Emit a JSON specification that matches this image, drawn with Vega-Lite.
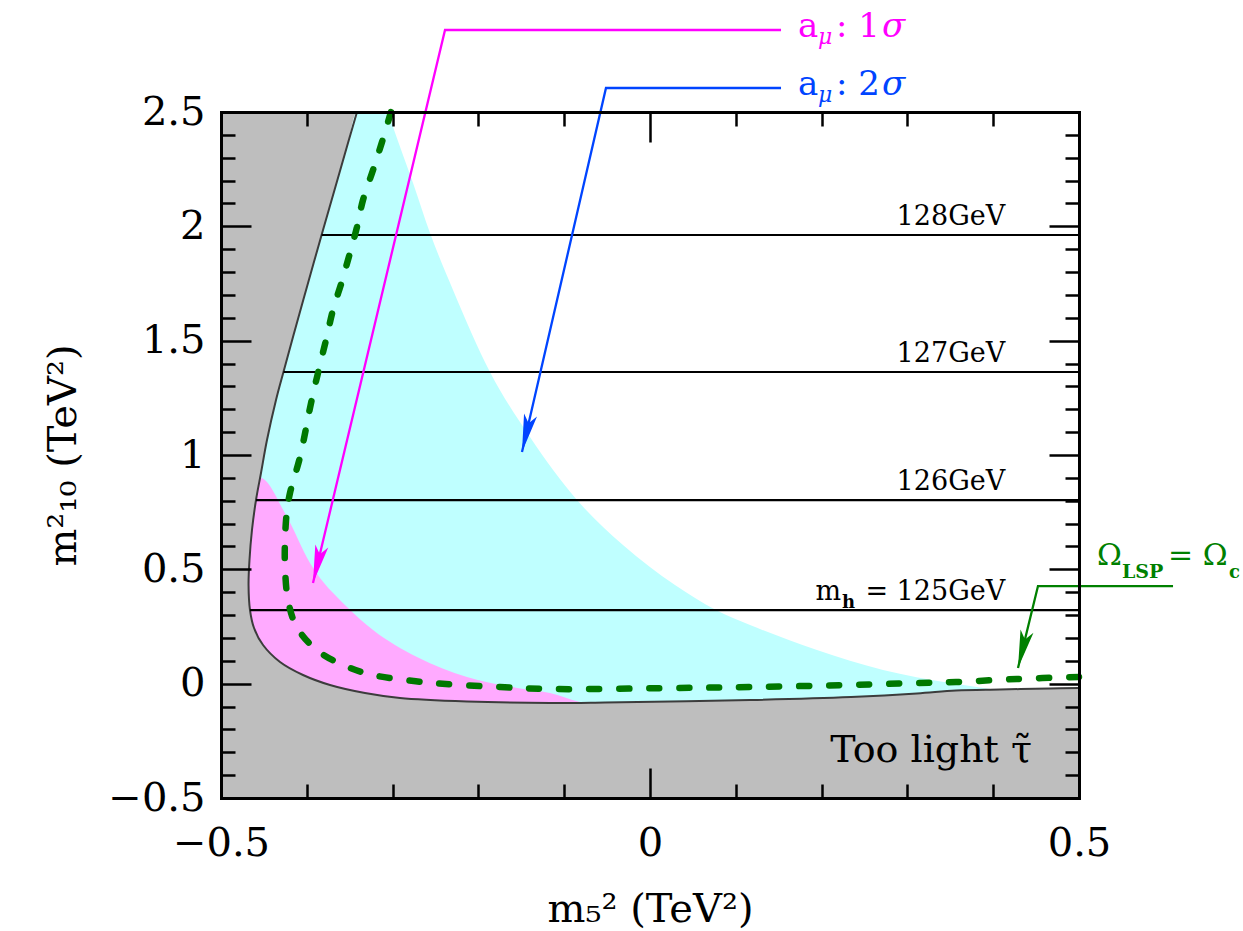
{
  "$schema": "https://vega.github.io/schema/vega-lite/v6.json",
  "width": 858,
  "height": 686,
  "autosize": {"type": "none"},
  "padding": {"left": 221, "top": 112, "right": 164, "bottom": 133},
  "background": "white",
  "config": {"view": {"fill": "#bebebe", "stroke": null}, "font": "DejaVu Serif"},
  "datasets": {
    "white": [
      {"x": -0.4679, "y": 0.4315}, {"x": -0.4668, "y": 0.5409}, {"x": -0.4639, "y": 0.672},
      {"x": -0.4592, "y": 0.8032}, {"x": -0.4534, "y": 0.9213}, {"x": -0.4464, "y": 1.0656},
      {"x": -0.4359, "y": 1.2405}, {"x": -0.4272, "y": 1.363}, {"x": -0.4161, "y": 1.5161},
      {"x": -0.3992, "y": 1.7435}, {"x": -0.3811, "y": 1.984}, {"x": -0.3677, "y": 2.1589},
      {"x": -0.352, "y": 2.3644}, {"x": -0.3415, "y": 2.5}, {"x": 0.5, "y": 2.5}
    ],
    "cyan": [
      {"x": -0.4679, "y": 0.4315}, {"x": -0.4668, "y": 0.5409}, {"x": -0.4639, "y": 0.672},
      {"x": -0.4592, "y": 0.8032}, {"x": -0.4534, "y": 0.9213}, {"x": -0.4464, "y": 1.0656},
      {"x": -0.4359, "y": 1.2405}, {"x": -0.4272, "y": 1.363}, {"x": -0.4161, "y": 1.5161},
      {"x": -0.3992, "y": 1.7435}, {"x": -0.3811, "y": 1.984}, {"x": -0.3677, "y": 2.1589},
      {"x": -0.352, "y": 2.3644}, {"x": -0.3415, "y": 2.5}, {"x": -0.3054, "y": 2.5},
      {"x": -0.3007, "y": 2.4475}, {"x": -0.2762, "y": 2.1895}, {"x": -0.2564, "y": 1.9709},
      {"x": -0.2296, "y": 1.7216}, {"x": -0.1865, "y": 1.363}, {"x": -0.1399, "y": 1.0787},
      {"x": -0.0851, "y": 0.8032}, {"x": -0.0315, "y": 0.6064}, {"x": 0.0291, "y": 0.4315},
      {"x": 0.0769, "y": 0.322}, {"x": 0.1166, "y": 0.2566}, {"x": 0.1946, "y": 0.1473},
      {"x": 0.2716, "y": 0.0598}, {"x": 0.3497, "y": 0.003}, {"x": 0.3963, "y": -0.0233},
      {"x": 0.4196, "y": -0.0364}
    ],
    "pink": [
      {"x": -0.4679, "y": 0.4315}, {"x": -0.4668, "y": 0.5409}, {"x": -0.4639, "y": 0.672},
      {"x": -0.4592, "y": 0.8032}, {"x": -0.4546, "y": 0.9}, {"x": -0.4231, "y": 0.7289},
      {"x": -0.3963, "y": 0.5277}, {"x": -0.3531, "y": 0.3353}, {"x": -0.3228, "y": 0.2347},
      {"x": -0.2716, "y": 0.1167}, {"x": -0.2133, "y": 0.0292}, {"x": -0.155, "y": -0.0189},
      {"x": -0.1166, "y": -0.0408}, {"x": -0.0816, "y": -0.0801}, {"x": -0.0583, "y": -0.0976}
    ],
    "grayBottom": [
      {"x": -0.5, "y": 0.4315}, {"x": -0.4679, "y": 0.4315}, {"x": -0.4662, "y": 0.322},
      {"x": -0.4615, "y": 0.2435}, {"x": -0.451, "y": 0.1691}, {"x": -0.4312, "y": 0.0948},
      {"x": -0.4044, "y": 0.0379}, {"x": -0.373, "y": -0.0058}, {"x": -0.3322, "y": -0.0408},
      {"x": -0.2914, "y": -0.0626}, {"x": -0.2133, "y": -0.078}, {"x": -0.1166, "y": -0.0845},
      {"x": -0.0524, "y": -0.0823}, {"x": 0.1166, "y": -0.0714}, {"x": 0.2343, "y": -0.0583},
      {"x": 0.3112, "y": -0.043}, {"x": 0.3566, "y": -0.0299}, {"x": 0.4079, "y": -0.0255},
      {"x": 0.4662, "y": -0.0211}, {"x": 0.5, "y": -0.0189}
    ],
    "boundary": [
      {"i": 0, "x": -0.3415, "y": 2.5}, {"i": 1, "x": -0.352, "y": 2.3644}, {"i": 2, "x": -0.3677, "y": 2.1589},
      {"i": 3, "x": -0.3811, "y": 1.984}, {"i": 4, "x": -0.3992, "y": 1.7435}, {"i": 5, "x": -0.4161, "y": 1.5161},
      {"i": 6, "x": -0.4272, "y": 1.363}, {"i": 7, "x": -0.4359, "y": 1.2405}, {"i": 8, "x": -0.4464, "y": 1.0656},
      {"i": 9, "x": -0.4534, "y": 0.9213}, {"i": 10, "x": -0.4592, "y": 0.8032}, {"i": 11, "x": -0.4639, "y": 0.672},
      {"i": 12, "x": -0.4668, "y": 0.5409}, {"i": 13, "x": -0.4679, "y": 0.4315}, {"i": 14, "x": -0.4662, "y": 0.322},
      {"i": 15, "x": -0.4615, "y": 0.2435}, {"i": 16, "x": -0.451, "y": 0.1691}, {"i": 17, "x": -0.4312, "y": 0.0948},
      {"i": 18, "x": -0.4044, "y": 0.0379}, {"i": 19, "x": -0.373, "y": -0.0058}, {"i": 20, "x": -0.3322, "y": -0.0408},
      {"i": 21, "x": -0.2914, "y": -0.0626}, {"i": 22, "x": -0.2133, "y": -0.078}, {"i": 23, "x": -0.1166, "y": -0.0845},
      {"i": 24, "x": -0.0524, "y": -0.0823}, {"i": 25, "x": 0.1166, "y": -0.0714}, {"i": 26, "x": 0.2343, "y": -0.0583},
      {"i": 27, "x": 0.3112, "y": -0.043}, {"i": 28, "x": 0.3566, "y": -0.0299}, {"i": 29, "x": 0.4079, "y": -0.0255},
      {"i": 30, "x": 0.4662, "y": -0.0211}, {"i": 31, "x": 0.5, "y": -0.0189}
    ],
    "relic": [
      {"i": 0, "x": -0.3019, "y": 2.5}, {"i": 1, "x": -0.3127, "y": 2.3644}, {"i": 2, "x": -0.3228, "y": 2.2464},
      {"i": 3, "x": -0.3345, "y": 2.1152}, {"i": 4, "x": -0.3415, "y": 1.9971}, {"i": 5, "x": -0.3497, "y": 1.8834},
      {"i": 6, "x": -0.3593, "y": 1.7566}, {"i": 7, "x": -0.3695, "y": 1.6341}, {"i": 8, "x": -0.3768, "y": 1.5161},
      {"i": 9, "x": -0.3943, "y": 1.2405}, {"i": 10, "x": -0.4079, "y": 0.9913}, {"i": 11, "x": -0.4196, "y": 0.8338},
      {"i": 12, "x": -0.4234, "y": 0.7464}, {"i": 13, "x": -0.4254, "y": 0.6283}, {"i": 14, "x": -0.4254, "y": 0.5102},
      {"i": 15, "x": -0.4219, "y": 0.3659}, {"i": 16, "x": -0.4118, "y": 0.2479}, {"i": 17, "x": -0.3885, "y": 0.1473},
      {"i": 18, "x": -0.3578, "y": 0.0817}, {"i": 19, "x": -0.3228, "y": 0.0379}, {"i": 20, "x": -0.2529, "y": 0.003},
      {"i": 21, "x": -0.1748, "y": -0.0145}, {"i": 22, "x": -0.1166, "y": -0.0233}, {"i": 23, "x": 0.0291, "y": -0.0189},
      {"i": 24, "x": 0.1166, "y": -0.0145}, {"i": 25, "x": 0.2343, "y": -0.0058}, {"i": 26, "x": 0.3112, "y": 0.003},
      {"i": 27, "x": 0.3566, "y": 0.0073}, {"i": 28, "x": 0.4277, "y": 0.0205}, {"i": 29, "x": 0.5, "y": 0.0292}
    ],
    "higgs": [
      {"x": -0.3828, "y": 1.962, "t": "128GeV"},
      {"x": -0.4272, "y": 1.363, "t": "127GeV"},
      {"x": -0.4592, "y": 0.803, "t": "126GeV"},
      {"x": -0.4662, "y": 0.322, "t": "= 125GeV"}
    ],
    "annot": [
      {"s": "1σ", "i": 0, "x": 0.1527, "y": 2.8586}, {"s": "1σ", "i": 1, "x": -0.2389, "y": 2.8586}, {"s": "1σ", "i": 2, "x": -0.3928, "y": 0.4403},
      {"s": "2σ", "i": 0, "x": 0.1527, "y": 2.605}, {"s": "2σ", "i": 1, "x": -0.0513, "y": 2.605}, {"s": "2σ", "i": 2, "x": -0.1492, "y": 1.013},
      {"s": "Ω", "i": 0, "x": 0.6096, "y": 0.427}, {"s": "Ω", "i": 1, "x": 0.4522, "y": 0.427}, {"s": "Ω", "i": 2, "x": 0.4289, "y": 0.0685}
    ],
    "amu": [
      {"x": 0.1725, "y": 2.8586, "s": "1σ", "tail": ": 1"},
      {"x": 0.1725, "y": 2.605, "s": "2σ", "tail": ": 2"}
    ],
    "omega": [{"x": 0.5268, "y": 0.427, "s": "Ω"}],
    "stau": [{"x": 0.4452, "y": -0.3412, "t": "Too light τ̃"}]
  },
  "encoding": {
    "x": {"field": "x", "type": "quantitative", "scale": {"domain": [-0.5, 0.5], "nice": false, "zero": false}, "axis": null},
    "y": {"field": "y", "type": "quantitative", "scale": {"domain": [-0.5, 2.5], "nice": false, "zero": false}, "axis": null}
  },
  "layer": [
    {
      "data": {"name": "white"},
      "mark": {"type": "area", "color": "white", "interpolate": "monotone"},
      "encoding": {
        "x": {
          "field": "x", "type": "quantitative", "scale": {"domain": [-0.5, 0.5], "nice": false, "zero": false},
          "axis": {
            "orient": "bottom",
            "values": [-0.5, -0.4, -0.3, -0.2, -0.1, 0, 0.1, 0.2, 0.3, 0.4, 0.5],
            "format": "~g",
            "labelExpr": "abs(datum.value*2-round(datum.value*2))<0.001 ? datum.label : ''",
            "tickSize": {"condition": {"test": "abs(datum.value*2-round(datum.value*2))<0.001", "value": -30}, "value": -14},
            "tickWidth": 2.5, "tickColor": "black",
            "domainColor": "black", "domainWidth": 3, "domainCap": "square",
            "labelFont": "DejaVu Serif", "labelFontSize": 40, "labelColor": "black", "labelPadding": 55,
            "labelOverlap": false, "labelFlush": false,
            "title": "m₅² (TeV²)", "titleFont": "DejaVu Serif", "titleFontSize": 40, "titleFontWeight": "normal",
            "titleColor": "black", "titlePadding": 10,
            "grid": false, "zindex": 1
          }
        },
        "y": {
          "field": "y", "type": "quantitative", "scale": {"domain": [-0.5, 2.5], "nice": false, "zero": false},
          "axis": {
            "orient": "left",
            "values": [-0.5, -0.4, -0.3, -0.2, -0.1, 0, 0.1, 0.2, 0.3, 0.4, 0.5, 0.6, 0.7, 0.8, 0.9, 1, 1.1, 1.2, 1.3, 1.4, 1.5, 1.6, 1.7, 1.8, 1.9, 2, 2.1, 2.2, 2.3, 2.4, 2.5],
            "format": "~g",
            "labelExpr": "abs(datum.value*2-round(datum.value*2))<0.001 ? datum.label : ''",
            "tickSize": {"condition": {"test": "abs(datum.value*2-round(datum.value*2))<0.001", "value": -30}, "value": -14},
            "tickWidth": 2.5, "tickColor": "black",
            "domainColor": "black", "domainWidth": 3, "domainCap": "square",
            "labelFont": "DejaVu Serif", "labelFontSize": 40, "labelColor": "black", "labelPadding": 46,
            "labelOverlap": false, "labelFlush": false,
            "title": "m²₁₀ (TeV²)", "titleFont": "DejaVu Serif", "titleFontSize": 40, "titleFontWeight": "normal",
            "titleColor": "black", "titlePadding": 24,
            "grid": false, "zindex": 1
          }
        },
        "y2": {"datum": -0.5}
      }
    },
    {
      "data": {"name": "cyan"},
      "mark": {"type": "area", "color": "#bfffff", "interpolate": "monotone"},
      "encoding": {
        "x": {
          "field": "x", "type": "quantitative", "scale": {"domain": [-0.5, 0.5], "nice": false, "zero": false},
          "axis": {
            "orient": "top",
            "values": [-0.5, -0.4, -0.3, -0.2, -0.1, 0, 0.1, 0.2, 0.3, 0.4, 0.5],
            "labels": false, "title": null,
            "tickSize": {"condition": {"test": "abs(datum.value*2-round(datum.value*2))<0.001", "value": -30}, "value": -14},
            "tickWidth": 2.5, "tickColor": "black",
            "domainColor": "black", "domainWidth": 3, "domainCap": "square",
            "grid": false, "zindex": 1
          }
        },
        "y": {
          "field": "y", "type": "quantitative", "scale": {"domain": [-0.5, 2.5], "nice": false, "zero": false},
          "axis": {
            "orient": "right",
            "values": [-0.5, -0.4, -0.3, -0.2, -0.1, 0, 0.1, 0.2, 0.3, 0.4, 0.5, 0.6, 0.7, 0.8, 0.9, 1, 1.1, 1.2, 1.3, 1.4, 1.5, 1.6, 1.7, 1.8, 1.9, 2, 2.1, 2.2, 2.3, 2.4, 2.5],
            "labels": false, "title": null,
            "tickSize": {"condition": {"test": "abs(datum.value*2-round(datum.value*2))<0.001", "value": -30}, "value": -14},
            "tickWidth": 2.5, "tickColor": "black",
            "domainColor": "black", "domainWidth": 3, "domainCap": "square",
            "grid": false, "zindex": 1
          }
        },
        "y2": {"datum": -0.5}
      }
    },
    {
      "data": {"name": "pink"},
      "mark": {"type": "area", "color": "#ffaaff", "interpolate": "monotone"},
      "encoding": {"y2": {"datum": -0.5}}
    },
    {
      "data": {"name": "grayBottom"},
      "mark": {"type": "area", "color": "#bebebe", "interpolate": "monotone"},
      "encoding": {"y2": {"datum": -0.5}}
    },
    {
      "data": {"name": "boundary"},
      "mark": {"type": "line", "color": "#3c3c3c", "strokeWidth": 2, "interpolate": "catmull-rom"},
      "encoding": {"order": {"field": "i", "type": "quantitative"}}
    },
    {
      "data": {"name": "higgs"},
      "mark": {"type": "rule", "color": "black", "strokeWidth": 2.2},
      "encoding": {"x2": {"datum": 0.5}}
    },
    {
      "data": {"name": "higgs"},
      "mark": {"type": "text", "align": "right", "baseline": "alphabetic", "dy": -10, "fontSize": 27, "font": "DejaVu Serif", "color": "black"},
      "encoding": {"x": {"datum": 0.414}, "text": {"field": "t"}}
    },
    {
      "data": {"values": [{"x": 0.414, "y": 0.322}]},
      "mark": {"type": "text", "text": "m", "align": "right", "baseline": "alphabetic", "dx": -164, "dy": -10, "fontSize": 27, "font": "DejaVu Serif", "color": "black"}
    },
    {
      "data": {"values": [{"x": 0.414, "y": 0.322}]},
      "mark": {"type": "text", "text": "h", "align": "right", "baseline": "alphabetic", "dx": -150, "dy": -2, "fontSize": 18, "fontWeight": "bold", "font": "DejaVu Serif", "color": "black"}
    },
    {
      "data": {"name": "relic"},
      "mark": {"type": "line", "color": "#007800", "strokeWidth": 6.5, "strokeDash": [10, 20], "strokeCap": "round", "interpolate": "catmull-rom"},
      "encoding": {"order": {"field": "i", "type": "quantitative"}}
    },
    {
      "data": {"name": "annot"},
      "mark": {"type": "line", "strokeWidth": 2.3},
      "encoding": {
        "order": {"field": "i", "type": "quantitative"},
        "color": {"field": "s", "type": "nominal", "scale": {"domain": ["1σ", "2σ", "Ω"], "range": ["#ff00ff", "#0044ff", "#008000"]}, "legend": null}
      }
    },
    {
      "data": {"name": "annot"},
      "transform": [{"filter": "datum.i === 2"}],
      "mark": {"type": "point", "shape": "M0,0L-0.35,-2L0,-1.55L0.35,-2Z", "filled": true, "size": 1444, "opacity": 1, "strokeWidth": 0},
      "encoding": {
        "color": {"field": "s", "type": "nominal", "scale": {"domain": ["1σ", "2σ", "Ω"], "range": ["#ff00ff", "#0044ff", "#008000"]}, "legend": null},
        "angle": {"condition": [{"test": "datum.s === '1σ'", "value": 13.4}, {"test": "datum.s === '2σ'", "value": 13.0}], "value": 13.7}
      }
    },
    {
      "data": {"name": "amu"},
      "mark": {"type": "text", "text": "a", "align": "left", "baseline": "alphabetic", "dy": 7, "fontSize": 34, "font": "DejaVu Serif"},
      "encoding": {"color": {"field": "s", "type": "nominal", "scale": {"domain": ["1σ", "2σ", "Ω"], "range": ["#ff00ff", "#0044ff", "#008000"]}, "legend": null}}
    },
    {
      "data": {"name": "amu"},
      "mark": {"type": "text", "text": "μ", "align": "left", "baseline": "alphabetic", "dx": 20, "dy": 14, "fontSize": 22, "fontStyle": "italic", "font": "DejaVu Serif"},
      "encoding": {"color": {"field": "s", "type": "nominal", "scale": {"domain": ["1σ", "2σ", "Ω"], "range": ["#ff00ff", "#0044ff", "#008000"]}, "legend": null}}
    },
    {
      "data": {"name": "amu"},
      "mark": {"type": "text", "align": "left", "baseline": "alphabetic", "dx": 38, "dy": 7, "fontSize": 34, "font": "DejaVu Serif"},
      "encoding": {
        "text": {"field": "tail"},
        "color": {"field": "s", "type": "nominal", "scale": {"domain": ["1σ", "2σ", "Ω"], "range": ["#ff00ff", "#0044ff", "#008000"]}, "legend": null}
      }
    },
    {
      "data": {"name": "amu"},
      "mark": {"type": "text", "text": "σ", "align": "left", "baseline": "alphabetic", "dx": 84, "dy": 7, "fontSize": 34, "fontStyle": "italic", "font": "DejaVu Serif"},
      "encoding": {"color": {"field": "s", "type": "nominal", "scale": {"domain": ["1σ", "2σ", "Ω"], "range": ["#ff00ff", "#0044ff", "#008000"]}, "legend": null}}
    },
    {
      "data": {"name": "omega"},
      "mark": {"type": "text", "text": "Ω", "align": "left", "baseline": "alphabetic", "dx": -5, "dy": -21, "fontSize": 30, "font": "DejaVu Serif", "color": "#008000"}
    },
    {
      "data": {"name": "omega"},
      "mark": {"type": "text", "text": "LSP", "align": "left", "baseline": "alphabetic", "dx": 20, "dy": -8, "fontSize": 19, "fontWeight": "bold", "font": "DejaVu Serif", "color": "#008000"}
    },
    {
      "data": {"name": "omega"},
      "mark": {"type": "text", "text": "= Ω", "align": "left", "baseline": "alphabetic", "dx": 66, "dy": -21, "fontSize": 30, "font": "DejaVu Serif", "color": "#008000"}
    },
    {
      "data": {"name": "omega"},
      "mark": {"type": "text", "text": "c", "align": "left", "baseline": "alphabetic", "dx": 127, "dy": -8, "fontSize": 18, "fontWeight": "bold", "font": "DejaVu Serif", "color": "#008000"}
    },
    {
      "data": {"name": "stau"},
      "mark": {"type": "text", "align": "right", "baseline": "alphabetic", "fontSize": 38, "font": "DejaVu Serif", "color": "black"},
      "encoding": {"text": {"field": "t"}}
    }
  ]
}
